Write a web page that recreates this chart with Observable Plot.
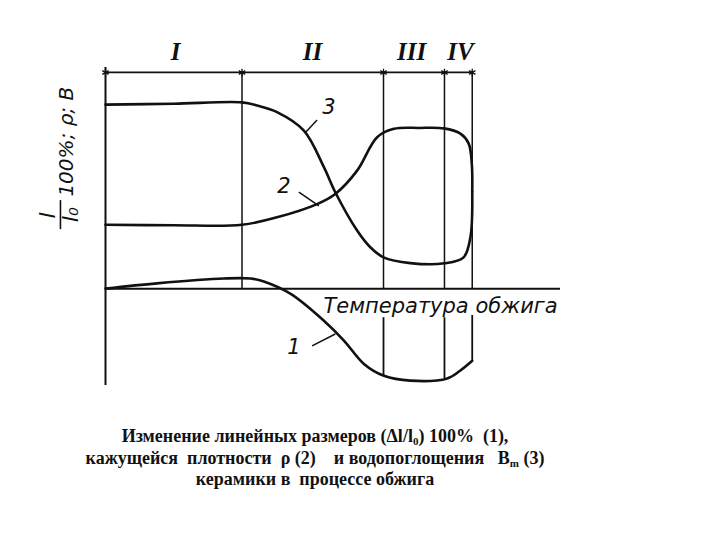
<!DOCTYPE html>
<html>
<head>
<meta charset="utf-8">
<script src="https://cdn.jsdelivr.net/npm/d3@7"></script>
<script src="https://cdn.jsdelivr.net/npm/@observablehq/plot@0.6"></script>
<style>
  html, body { margin: 0; padding: 0; background: #fff; }
  #chart svg { display: block; }
  .cap {
    width: 630px; margin-top: 6px; text-align: center;
    font-family: "Liberation Serif", "DejaVu Serif", "Times New Roman", serif; font-weight: bold;
    font-size: 18px; line-height: 21.5px; white-space: pre; color: #111;
  }
  .cap sub { font-size: 11px; vertical-align: -3px; line-height: 0; }
</style>
</head>
<body>
<div id="chart"></div>
<div class="cap" id="cap"></div>
<script>
// Stage boundaries (temperature, relative units) and stage labels
const stageX = [0, 30, 61.1, 74.5, 80.6];
const stageTop = 49.1;
const stageNames = ["I", "II", "III", "IV"];
const stageLabelX = [15.4, 45.5, 67.3, 78];

// Curve 1: linear change Δl/l0·100%
const c1X = [0, 11.3, 26, 31.9, 34.8, 40.7, 48, 52.4, 56.8, 61.2, 67, 75.1, 78, 80.6];
const c1Y = [0, 1.2, 2.3, 2.3, 1.6, -1.2, -7.3, -11.8, -17.1, -19.8, -20.9, -20.4, -18.6, -16.4];
// Curve 2: apparent density ρ
const c2X = [0, 15, 30, 37.7, 46.5, 50.5, 55.3, 59.7, 63.4, 69, 74.4, 78, 79.8, 80.5, 80.6];
const c2Y = [14.5, 14.4, 14.5, 16.2, 19.2, 21.5, 26.8, 34.4, 36.3, 36.5, 36.4, 35.2, 33, 28.4, 22];
// Curve 3: water absorption Bm
const c3X = [0, 15, 30, 33.3, 37.7, 43.6, 48, 50.5, 55.3, 58.2, 61.1, 67, 74.5, 78.7, 80.2, 80.6];
const c3Y = [41.8, 42.0, 42.3, 41.6, 40.1, 35.9, 27.6, 21.9, 13.2, 9.4, 7.1, 5.8, 5.75, 7.1, 11.7, 22];

// Boundary segments below the temperature axis
const lowX = [61.1, 74.5, 80.6];
const lowTop = [-6.6, -6.6, -6.1];
const lowBottom = [-19.8, -20.4, -16.4];

// Curve number labels and leaders
const numText = ["1", "2", "3"];
const numX = [41.4, 39.2, 49.1];
const numY = [-13.3, 23.2, 41.2];
const leadX1 = [45.4, 42.5, 44], leadY1 = [-13, 21.9, 35.5];
const leadX2 = [50.5, 46.9, 46.5], leadY2 = [-10.3, 18.8, 38.3];

const axisLabel = "Температура обжига";
const yLabelMain = "100%; ρ; B";
const captionLines = [
  "Изменение линейных размеров (Δl/l<sub>0</sub>) 100%  (1),",
  "кажущейся  плотности  ρ (2)    и водопоглощения   B<sub>m</sub> (3)",
  "керамики в  процессе обжига"
];

const toPts = (xs, ys) => xs.map((x, i) => ({x, y: ys[i]}));
const stages = stageX.slice(1).map((x, i) => ({x, y: stageTop}));
const stageLbl = stageNames.map((t, i) => ({t, x: stageLabelX[i], y: 53.8}));
const lows = lowX.map((x, i) => ({x, y1: lowTop[i], y2: lowBottom[i]}));
const nums = numText.map((t, i) => ({t, x: numX[i], y: numY[i]}));
const leads = numText.map((t, i) => ({x1: leadX1[i], y1: leadY1[i], x2: leadX2[i], y2: leadY2[i]}));
const ink = "#111";
const handFont = "DejaVu Sans";

const plot = Plot.plot({
  width: 720, height: 420,
  marginLeft: 105, marginRight: 160, marginTop: 68, marginBottom: 35,
  x: {domain: [0, 100], axis: null},
  y: {domain: [-22, 50], axis: null},
  style: {background: "white"},
  marks: [
    // axes
    Plot.ruleX([0], {y1: -22, y2: 50.2, stroke: ink, strokeWidth: 2}),
    Plot.ruleY([0], {x1: 0, x2: 100, stroke: ink, strokeWidth: 2}),
    // stage bar at top
    Plot.ruleY([stageTop], {x1: 0, x2: stageX[stageX.length - 1], stroke: ink, strokeWidth: 1.8}),
    Plot.ruleX(stages, {x: "x", y1: 0, y2: stageTop, stroke: ink, strokeWidth: 1.5}),
    Plot.dot(stageX.map(x => ({x, y: stageTop})), {x: "x", y: "y", symbol: "asterisk", r: 3.5, stroke: ink, strokeWidth: 1.3}),
    Plot.text(stageLbl, {x: "x", y: "y", text: "t", fontSize: 25, fontStyle: "italic", fontWeight: "bold", fontFamily: "Liberation Serif", fill: ink}),
    Plot.ruleX(lows, {x: "x", y1: "y1", y2: "y2", stroke: ink, strokeWidth: 1.8}),
    // curves
    Plot.line(toPts(c1X, c1Y), {x: "x", y: "y", curve: "catmull-rom", stroke: ink, strokeWidth: 2.6}),
    Plot.line(toPts(c2X, c2Y), {x: "x", y: "y", curve: "catmull-rom", stroke: ink, strokeWidth: 2.6}),
    Plot.line(toPts(c3X, c3Y), {x: "x", y: "y", curve: "catmull-rom", stroke: ink, strokeWidth: 2.6}),
    // labels
    Plot.link(leads, {x1: "x1", y1: "y1", x2: "x2", y2: "y2", stroke: ink, strokeWidth: 1.5}),
    Plot.text(nums, {x: "x", y: "y", text: "t", fontSize: 21, fontStyle: "italic", fontFamily: handFont, fill: ink}),
    Plot.text([axisLabel], {x: 47.9, y: -4, text: d => d, textAnchor: "start", fontSize: 21, fontStyle: "italic", fontFamily: handFont, fill: ink}),
    // y label (rotated)
    Plot.text([yLabelMain], {x: -8.6, y: 20.9, text: d => d, rotate: -90, textAnchor: "start", fontSize: 20, fontStyle: "italic", fontFamily: handFont, fill: ink}),
    Plot.text(["l"], {x: -12.6, y: 16.6, text: d => d, rotate: -90, fontSize: 22, fontStyle: "italic", fontFamily: handFont, fill: ink}),
    Plot.ruleX([-9.9], {y1: 13.4, y2: 20, stroke: ink, strokeWidth: 1.6}),
    Plot.text(["l₀"], {x: -7.6, y: 16.8, text: d => d, rotate: -90, fontSize: 22, fontStyle: "italic", fontFamily: handFont, fill: ink})
  ]
});
document.getElementById("chart").appendChild(plot);
document.getElementById("cap").innerHTML = captionLines.join("<br>");
</script>
</body>
</html>
